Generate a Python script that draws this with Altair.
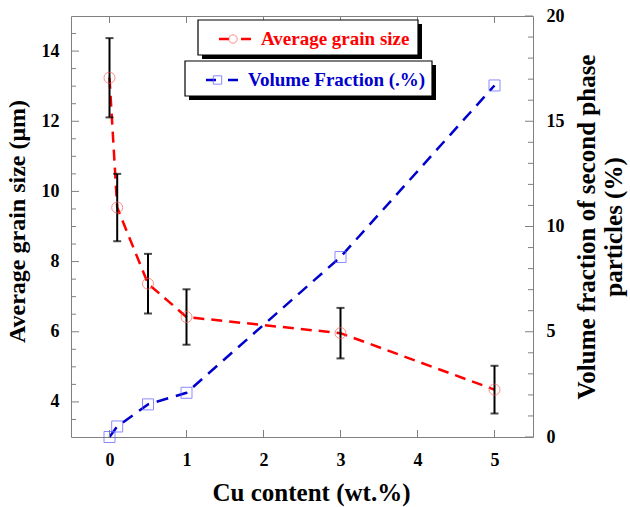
import altair as alt
import pandas as pd

# ---------------- data ----------------
cu = [0, 0.1, 0.5, 1, 3, 5]
grain = [13.24, 9.54, 7.37, 6.42, 5.96, 4.35]
grain_err = [1.13, 0.96, 0.85, 0.79, 0.72, 0.68]
vol_cu = [0, 0.1, 0.5, 1, 3, 5]
vol = [0.0, 0.5, 1.55, 2.1, 8.55, 16.7]

x_ticks = [0, 1, 2, 3, 4, 5]
left_major = [4, 6, 8, 10, 12, 14]
left_minor = [3.5, 4.5, 5, 5.5, 6.5, 7, 7.5, 8.5, 9, 9.5, 10.5, 11, 11.5, 12.5, 13, 13.5, 14.5]
right_major = [0, 5, 10, 15, 20]
right_minor = [1, 2, 3, 4, 6, 7, 8, 9, 11, 12, 13, 14, 16, 17, 18, 19]
legend_labels = ["Average grain size", "Volume Fraction (.%)"]

FONT = "Liberation Serif"
GRAY = "#808080"
RED = "#ff0000"
RED_MK = "#ff5a5a"
BLUE = "#0000cc"
BLUE_MK = "#5a5aff"
W, H = 462, 421

x_scale = alt.Scale(domain=[-0.5, 5.5], nice=False, zero=False)
yl_scale = alt.Scale(domain=[3, 15], nice=False, zero=False)
yr_scale = alt.Scale(domain=[0, 20], nice=False, zero=False)

grain_df = pd.DataFrame({
    "cu": cu,
    "grain": grain,
    "lo": [g - e for g, e in zip(grain, grain_err)],
    "hi": [g + e for g, e in zip(grain, grain_err)],
})
vol_df = pd.DataFrame({"cu": vol_cu, "vol": vol})

# the same x axis definition is given to every layer so the shared axis merges cleanly
xax = alt.Axis(values=x_ticks, title="Cu content (wt.%)", format="d",
               labelPadding=14, titlePadding=11, titleFontSize=25, titleX=240)
ylax = alt.Axis(values=left_major, title="Average grain size (μm)", format="d",
                labelPadding=12, titlePadding=12, titleY=205)
yrax = alt.Axis(values=right_major, orient="right", format="d",
                title=["Volume fraction of second phase", "particles (%)"],
                titleAngle=270, titleFontSize=25, labelPadding=13, titlePadding=8)


def X(field):
    return alt.X(field, scale=x_scale, axis=xax)


# ---------------- grain size (left scale) ----------------
g_line = alt.Chart(grain_df).mark_line(color=RED, strokeDash=[11, 7], strokeWidth=2.5).encode(
    x=X("cu:Q"),
    y=alt.Y("grain:Q", scale=yl_scale, axis=ylax),
)
g_err = alt.Chart(grain_df).mark_rule(color="black", strokeWidth=2).encode(
    x=X("cu:Q"),
    y=alt.Y("lo:Q", scale=yl_scale, axis=None),
    y2="hi:Q",
)
g_cap_hi = alt.Chart(grain_df).mark_tick(color="black", orient="horizontal", size=8, thickness=2).encode(
    x=X("cu:Q"),
    y=alt.Y("hi:Q", scale=yl_scale, axis=None),
)
g_cap_lo = alt.Chart(grain_df).mark_tick(color="black", orient="horizontal", size=8, thickness=2).encode(
    x=X("cu:Q"),
    y=alt.Y("lo:Q", scale=yl_scale, axis=None),
)
g_pts = alt.Chart(grain_df).mark_point(shape="circle", filled=False, color=RED_MK, size=121, strokeWidth=1).encode(
    x=X("cu:Q"),
    y=alt.Y("grain:Q", scale=yl_scale, axis=None),
)
lt_major = alt.Chart(pd.DataFrame({"v": left_major})).mark_rule(color=GRAY).encode(
    y=alt.Y("v:Q", scale=yl_scale, axis=None), x=alt.value(0), x2=alt.value(8))
lt_minor = alt.Chart(pd.DataFrame({"v": left_minor})).mark_rule(color=GRAY).encode(
    y=alt.Y("v:Q", scale=yl_scale, axis=None), x=alt.value(0), x2=alt.value(5))
xt_bottom = alt.Chart(pd.DataFrame({"cu": x_ticks})).mark_rule(color=GRAY).encode(
    x=X("cu:Q"), y=alt.value(H), y2=alt.value(H - 7))
xt_top = alt.Chart(pd.DataFrame({"cu": x_ticks})).mark_rule(color=GRAY).encode(
    x=X("cu:Q"), y=alt.value(0), y2=alt.value(7))

# ---------------- volume fraction (right scale) ----------------
v_line = alt.Chart(vol_df).mark_line(color=BLUE, strokeDash=[12, 8], strokeWidth=2.5).encode(
    x=X("cu:Q"),
    y=alt.Y("vol:Q", scale=yr_scale, axis=yrax),
)
v_pts = alt.Chart(vol_df).mark_point(shape="square", filled=False, color=BLUE_MK, size=121, strokeWidth=1).encode(
    x=X("cu:Q"),
    y=alt.Y("vol:Q", scale=yr_scale, axis=None),
)
rt_major = alt.Chart(pd.DataFrame({"v": right_major})).mark_rule(color=GRAY).encode(
    y=alt.Y("v:Q", scale=yr_scale, axis=None), x=alt.value(W), x2=alt.value(W - 8))
rt_minor = alt.Chart(pd.DataFrame({"v": right_minor})).mark_rule(color=GRAY).encode(
    y=alt.Y("v:Q", scale=yr_scale, axis=None), x=alt.value(W), x2=alt.value(W - 5))

# ---------------- legend boxes ----------------
def legend_box(label, x0, x1, y0, y1, color, mk_color, shape, lx0, lx1, sx, tx):
    d = pd.DataFrame({"label": [label]})
    yc = (y0 + y1) / 2 + 1.5
    shadow = alt.Chart(d).mark_rect(color="black").encode(
        x=alt.value(x0 + 4), x2=alt.value(x1 + 4), y=alt.value(y0 + 4), y2=alt.value(y1 + 4))
    box = alt.Chart(d).mark_rect(fill="white", stroke="black", strokeWidth=1.2).encode(
        x=alt.value(x0), x2=alt.value(x1), y=alt.value(y0), y2=alt.value(y1))
    line = alt.Chart(d).mark_rule(color=color, strokeWidth=2.5, strokeDash=[10, 12]).encode(
        x=alt.value(lx0), x2=alt.value(lx1), y=alt.value(yc))
    sym = alt.Chart(d).mark_point(shape=shape, filled=False, color=mk_color, size=70, strokeWidth=1).encode(
        x=alt.value(sx), y=alt.value(yc))
    txt = alt.Chart(d).mark_text(align="left", baseline="middle", font=FONT, fontWeight="bold",
                                 fontSize=19, color=color).encode(
        x=alt.value(tx), y=alt.value(yc), text="label:N")
    return [shadow, box, line, sym, txt]

leg1 = legend_box(legend_labels[0], 127, 347, 4, 39, RED, RED_MK, "circle", 148, 181, 162, 190)
leg2 = legend_box(legend_labels[1], 114, 361, 45, 80, BLUE, BLUE_MK, "square", 135, 168, 146.5, 177)

layers = [g_line, v_line, lt_major, lt_minor, xt_bottom, xt_top, rt_major, rt_minor,
          g_err, g_cap_hi, g_cap_lo, g_pts, v_pts] + leg1 + leg2

chart = alt.layer(*layers).resolve_scale(y="independent").properties(
    width=W, height=H, autosize="none",
    padding={"left": 71, "top": 16, "right": 97, "bottom": 70},
    background="white",
).configure_view(stroke=GRAY, strokeWidth=1).configure_axis(
    labelFont=FONT, titleFont=FONT, labelFontWeight="bold", titleFontWeight="bold",
    labelColor="black", titleColor="black", labelFontSize=18, titleFontSize=24,
    grid=False, ticks=False, domain=False,
)

chart.save("out.html", embed_options={"renderer": "svg", "actions": False})
